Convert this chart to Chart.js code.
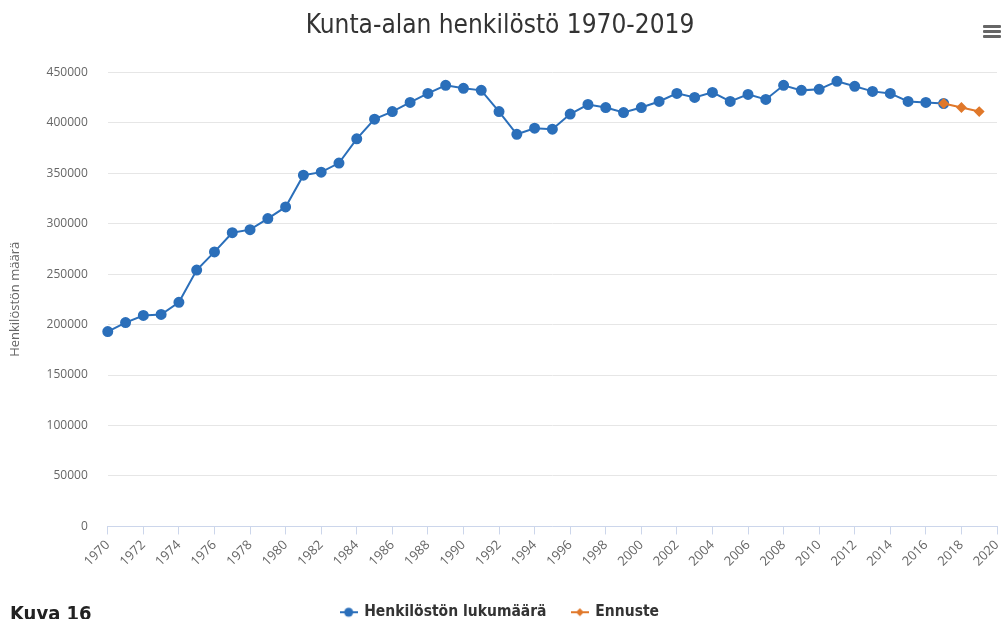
<!DOCTYPE html>
<html>
<head>
<meta charset="utf-8">
<script src="https://cdn.jsdelivr.net/npm/chart.js@4/dist/chart.umd.min.js"></script>
<style>
  html, body { margin: 0; padding: 0; background: #fff; }
  #wrap { position: relative; width: 1005px; height: 619px; overflow: hidden; }
  #kuva { position: absolute; left: 10px; top: 601px; font: bold 20px "Liberation Sans Narrow", "DejaVu Sans Condensed", sans-serif; color: #222; }
  .bar { position: absolute; left: 983px; width: 18px; height: 3px; background: #666; border-radius: 1px; }
</style>
</head>
<body>
<div id="wrap">
  <canvas id="myChart" width="1005" height="619"></canvas>
  <div id="kuva">Kuva 16</div>
  <div class="bar" style="top:25px"></div>
  <div class="bar" style="top:30px"></div>
  <div class="bar" style="top:35px"></div>
</div>
<script>
const years = [];
for (let y = 1970; y <= 2020; y++) years.push(String(y));

// Henkilöstön lukumäärä 1970-2017
const henkilosto = [
  193000, 202000, 209000, 210000, 222000, 254000, 272000, 291000, 294000, 305000,
  316500, 348000, 351000, 360000, 384000, 403500, 411000, 420000, 429000, 437000,
  434000, 432000, 411000, 388500, 394500, 393500, 408500, 418000, 415000, 410000,
  415000, 421000, 429000, 425000, 430000, 421000, 428000, 423000, 437000, 432000,
  433000, 441000, 436000, 431000, 429000, 421000, 420000, 419000
];

// Ennuste 2017-2019
const ennusteYears = ['2017', '2018', '2019'];
const ennuste = [419000, 415000, 411000];

const blueData = years.map((y, i) => i < henkilosto.length ? henkilosto[i] : null);
const orangeData = years.map(y => {
  const k = ennusteYears.indexOf(y);
  return k >= 0 ? ennuste[k] : null;
});

const BLUE = '#2b6fba';
const ORANGE = '#e0782a';

// legend symbol: short line with the marker in the middle
function legendIcon(color, shape) {
  const c = document.createElement('canvas');
  c.width = 18; c.height = 12;
  const g = c.getContext('2d');
  g.strokeStyle = color; g.fillStyle = color; g.lineWidth = 2;
  g.beginPath(); g.moveTo(0, 6); g.lineTo(18, 6); g.stroke();
  g.beginPath();
  if (shape === 'circle') {
    g.arc(9, 6, 4.5, 0, Math.PI * 2);
  } else {
    g.moveTo(9, 2); g.lineTo(13, 6); g.lineTo(9, 10); g.lineTo(5, 6); g.closePath();
  }
  g.fill();
  return c;
}
const icons = [legendIcon(BLUE, 'circle'), legendIcon(ORANGE, 'diamond')];

const narrow = '"Liberation Sans Narrow", "DejaVu Sans Condensed", sans-serif';
const sans = '"Open Sans", "DejaVu Sans", sans-serif';

const ctx = document.getElementById('myChart').getContext('2d');
const chart = new Chart(ctx, {
  type: 'line',
  data: {
    labels: years,
    datasets: [
      {
        label: 'Henkilöstön lukumäärä',
        data: blueData,
        borderColor: BLUE,
        backgroundColor: BLUE,
        borderWidth: 2,
        pointRadius: 4.5,
        pointStyle: 'circle',
        tension: 0,
        order: 1,
      },
      {
        label: 'Ennuste',
        data: orangeData,
        borderColor: ORANGE,
        backgroundColor: ORANGE,
        borderWidth: 2,
        pointRadius: 4,
        pointStyle: 'rectRot',
        tension: 0,
        order: 0,
      },
    ],
  },
  options: {
    responsive: false,
    animation: false,
    layout: { padding: { left: 3, right: 8, top: 0, bottom: -11 } },
    plugins: {
      title: {
        display: true,
        text: 'Kunta-alan henkilöstö 1970-2019',
        color: '#333',
        font: { family: narrow, size: 26, weight: 'normal' },
        padding: { top: 11, bottom: 30 },
      },
      legend: {
        position: 'bottom',
        labels: {
          usePointStyle: true,
          color: '#333',
          padding: 11,
          font: { family: narrow, size: 15.5, weight: 'bold' },
          sort: (a, b) => a.datasetIndex - b.datasetIndex,
          generateLabels: (ch) => {
            const items = Chart.defaults.plugins.legend.labels.generateLabels(ch);
            items.forEach(it => {
              it.pointStyle = icons[it.datasetIndex];
              if (it.datasetIndex === 0) it.text = it.text + '   ';
            });
            return items;
          },
        },
      },
      tooltip: { enabled: false },
    },
    scales: {
      x: {
        offset: false,
        afterFit: (scale) => { scale.height += 21; scale.paddingRight = 0; },
        grid: {
          drawOnChartArea: false,
          drawTicks: true,
          tickLength: 8,
          color: (c) => (c.index % 2 === 0 ? '#ccd6eb' : 'rgba(0,0,0,0)'),
        },
        border: { color: '#ccd6eb' },
        ticks: {
          autoSkip: false,
          minRotation: 45,
          maxRotation: 45,
          color: '#666',
          font: { family: sans, size: 13 },
          callback: function (v, i) { return i % 2 === 0 ? this.getLabelForValue(v) : ''; },
        },
      },
      y: {
        min: 0,
        max: 450000,
        grid: { color: '#e6e6e6', drawTicks: false },
        border: { display: false },
        ticks: {
          stepSize: 50000,
          padding: 20,
          color: '#666',
          font: { family: sans, size: 12 },
          callback: (v) => String(v),
        },
        title: {
          display: true,
          text: 'Henkilöstön määrä',
          color: '#666',
          font: { family: sans, size: 13 },
          padding: { top: 4, bottom: 4 },
        },
      },
    },
  },
});
</script>
</body>
</html>
